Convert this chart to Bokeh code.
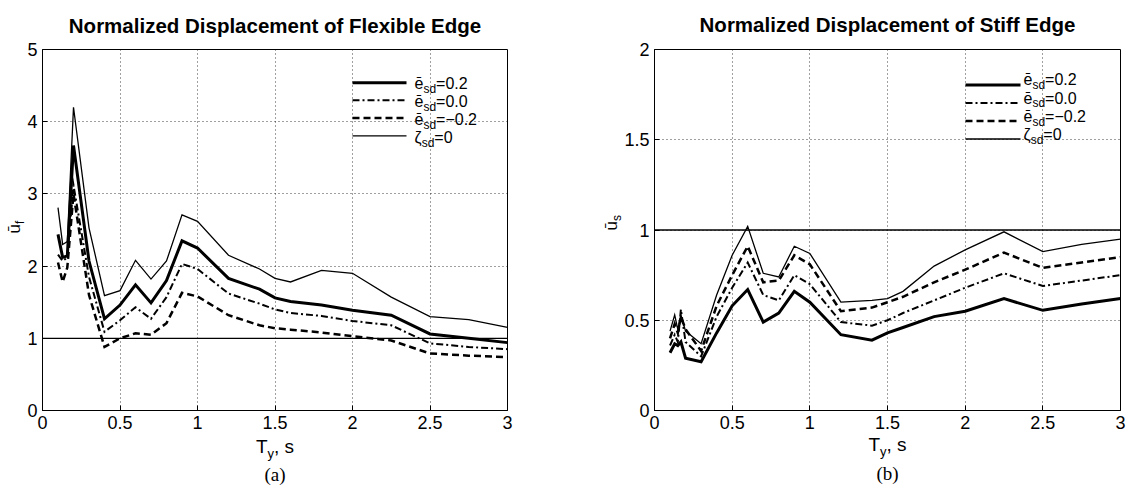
import math
from bokeh.plotting import figure
from bokeh.models import Label, Span, FixedTicker, CustomJSTickFormatter
from bokeh.layouts import row, column
from bokeh.embed import file_html
from bokeh.resources import INLINE

# ---------------- data ----------------
T_flex = [0.1, 0.13, 0.16, 0.2, 0.3, 0.4, 0.5, 0.6, 0.7, 0.8, 0.9, 1.0,
          1.2, 1.4, 1.5, 1.6, 1.8, 2.0, 2.25, 2.5, 2.75, 3.0]
uf_e_pos02 = [2.44, 2.12, 2.14, 3.67, 2.07, 1.27, 1.46, 1.74, 1.49, 1.80, 2.35, 2.25,
              1.83, 1.68, 1.56, 1.51, 1.46, 1.39, 1.32, 1.06, 1.00, 0.94]
uf_e_00 = [2.16, 2.07, 2.12, 3.12, 1.85, 1.09, 1.25, 1.43, 1.27, 1.57, 2.03, 1.96,
           1.62, 1.48, 1.40, 1.35, 1.31, 1.24, 1.18, 0.93, 0.88, 0.85]
uf_e_neg02 = [2.05, 1.78, 1.98, 3.00, 1.60, 0.88, 1.00, 1.07, 1.05, 1.21, 1.63, 1.58,
              1.32, 1.18, 1.14, 1.12, 1.08, 1.03, 0.97, 0.79, 0.76, 0.74]
uf_zeta0 = [2.81, 2.30, 2.34, 4.20, 2.53, 1.59, 1.66, 2.08, 1.82, 2.07, 2.71, 2.62,
            2.15, 1.96, 1.83, 1.78, 1.94, 1.90, 1.57, 1.30, 1.26, 1.15]

T_stiff = [0.1, 0.13, 0.15, 0.17, 0.2, 0.3, 0.4, 0.5, 0.6, 0.7, 0.8, 0.9, 1.0,
           1.2, 1.4, 1.5, 1.6, 1.8, 2.0, 2.25, 2.5, 2.75, 3.0]
us_e_pos02 = [0.32, 0.37, 0.36, 0.38, 0.29, 0.27, 0.43, 0.58, 0.67, 0.49, 0.54, 0.66, 0.60,
              0.42, 0.39, 0.43, 0.46, 0.52, 0.55, 0.62, 0.555, 0.59, 0.62]
us_e_00 = [0.36, 0.42, 0.38, 0.56, 0.38, 0.30, 0.52, 0.68, 0.82, 0.64, 0.61, 0.75, 0.70,
           0.49, 0.47, 0.50, 0.54, 0.61, 0.68, 0.76, 0.69, 0.72, 0.75]
us_e_neg02 = [0.40, 0.48, 0.43, 0.52, 0.45, 0.33, 0.58, 0.75, 0.91, 0.71, 0.72, 0.86, 0.81,
              0.55, 0.57, 0.60, 0.63, 0.71, 0.78, 0.875, 0.79, 0.82, 0.85]
us_zeta0 = [0.44, 0.53, 0.45, 0.53, 0.44, 0.37, 0.64, 0.86, 1.02, 0.76, 0.74, 0.91, 0.87,
            0.60, 0.61, 0.62, 0.66, 0.80, 0.89, 0.99, 0.88, 0.92, 0.95]

x_ticks = [0, 0.5, 1, 1.5, 2, 2.5, 3]
yf_ticks = [0, 1, 2, 3, 4, 5]
ys_ticks = [0, 0.5, 1, 1.5, 2]
ref_level = 1.0

legend_texts = [("ē", "sd", "=0.2"), ("ē", "sd", "=0.0"), ("ē", "sd", "=−0.2"), ("ζ", "sd", "=0")]

# ---------------- styles ----------------
FONT = "Liberation Sans"
SERIF = "Liberation Serif"
styles = [
    dict(line_width=3.0, line_dash="solid"),
    dict(line_width=2.0, line_dash="7 3 2 3"),
    dict(line_width=2.5, line_dash="7 4"),
    dict(line_width=1.3, line_dash="solid"),
]

W = {"ē": 0.556, "ū": 0.556, "s": 0.5, "d": 0.556, "=": 0.584, "0": 0.556, "2": 0.556,
     ".": 0.278, "−": 0.584, "ζ": 0.45, "f": 0.278, "T": 0.611, "y": 0.5, ",": 0.278, " ": 0.278}
BASE_FIX = 0.33  # baseline correction (fraction of font size)


def tw(text, size):
    return sum(W.get(c, 0.556) for c in text) * size


def make_map(fl, ft, fw, fh, xr, yr):
    def f(X, Y):
        return (xr[0] + (X - fl) * (xr[1] - xr[0]) / fw,
                yr[1] - (Y - ft) * (yr[1] - yr[0]) / fh)
    return f


# overlay figure: whole canvas in pixel units (y from top) for the free texts
ov = figure(width=1131, height=487, x_range=(0, 1131), y_range=(487, 0),
            x_axis_type=None, y_axis_type=None, toolbar_location=None, tools="",
            output_backend="svg", min_border=0, outline_line_color=None,
            background_fill_alpha=0, border_fill_alpha=0)
ov.xgrid.visible = False
ov.ygrid.visible = False
ov.margin = (-487, 0, 0, 0)


def txt(X, Y, text, size, font=FONT, style="normal", align="left", angle=0):
    if angle:
        X = X - BASE_FIX * size
    else:
        Y = Y - BASE_FIX * size
    ov.add_layout(Label(x=X, y=Y, text=text, text_font=font, text_font_size=f"{size}px",
                        text_font_style=style, text_color="black", text_align=align,
                        text_baseline="alphabetic", angle=angle))


def rich(X, Y, parts, center=False):
    total = sum(tw(t, s) for t, s, _ in parts)
    x = X - total / 2 if center else X
    for text, size, dy in parts:
        txt(x, Y + dy, text, size)
        x += tw(text, size)


def make_fig(width, mbl, mbr, mbt, mbb, yr, yticks):
    p = figure(width=width, height=487, x_range=(0, 3), y_range=yr,
               output_backend="svg", toolbar_location=None, tools="",
               min_border_left=mbl, min_border_right=mbr,
               min_border_top=mbt, min_border_bottom=mbb,
               background_fill_color="white", border_fill_color="white")
    p.outline_line_color = "black"
    p.outline_line_width = 1
    p.outline_line_alpha = 1
    p.xaxis[0].ticker = FixedTicker(ticks=x_ticks)
    p.yaxis[0].ticker = FixedTicker(ticks=yticks)
    p.xaxis[0].formatter = CustomJSTickFormatter(code="return tick.toString();")
    p.yaxis[0].formatter = CustomJSTickFormatter(code="return tick.toString();")
    for ax in (p.xaxis[0], p.yaxis[0]):
        ax.axis_line_color = "black"
        ax.major_tick_line_color = "black"
        ax.major_tick_in = 5
        ax.major_tick_out = 0
        ax.minor_tick_line_color = None
        ax.major_label_text_font = FONT
        ax.major_label_text_font_size = "18px"
        ax.major_label_text_color = "black"
        ax.major_label_standoff = 5
    for g in (p.xgrid[0], p.ygrid[0]):
        g.grid_line_color = "black"
        g.grid_line_alpha = 0.75
        g.grid_line_dash = "1 3"
        g.grid_line_width = 1
    p.add_layout(Span(location=ref_level, dimension="width", line_color="black", line_width=1.3))
    return p


def draw_panel(p, T, series, m, title, title_xy, ylab, ylab_xy, xlab_xy, cap, cap_xy,
               leg_x0, leg_x1, leg_tx, leg_rows):
    for ys, st in zip(series, styles):
        p.line(T, ys, line_color="black", line_join="miter", **st)
    txt(title_xy[0], title_xy[1], title, 20.5, style="bold", align="center")
    X, Y = ylab_xy
    txt(X, Y, "ū", 17, angle=math.pi / 2)
    txt(X + 3, Y - tw("ū", 17), ylab, 12, angle=math.pi / 2)
    rich(xlab_xy[0], xlab_xy[1], [("T", 19, 0), ("y", 13, 5), (", s", 19, 0)], center=True)
    txt(cap_xy[0], cap_xy[1], cap, 19, font=SERIF, align="center")
    for (a, b, c), st, Yr in zip(legend_texts, styles, leg_rows):
        x0, y0 = m(leg_x0, Yr)
        x1, _ = m(leg_x1, Yr)
        p.line([x0, x1], [y0, y0], line_color="black", **st)
        rich(leg_tx, Yr + 5.5, [(a, 16, 0), (b, 12, 4), (c, 16, 0)])


# ---------------- left panel ----------------
pf = make_fig(580, 42, 73, 49, 72, (0, 5), yf_ticks)
mf = make_map(42, 49, 465, 366, (0, 3), (0, 5))
draw_panel(pf, T_flex, [uf_e_pos02, uf_e_00, uf_e_neg02, uf_zeta0], mf,
           "Normalized Displacement of Flexible Edge", (274.5, 32),
           "f", (20, 233), (274.5, 452), "(a)", (274.5, 480),
           352, 406, 414, [82.7, 100.5, 118.5, 136.5])

# ---------------- right panel ----------------
ps = make_fig(551, 74, 11, 43, 77, (0, 2), ys_ticks)
ms = make_map(654, 43, 466, 367, (0, 3), (0, 2))
draw_panel(ps, T_stiff, [us_e_pos02, us_e_00, us_e_neg02, us_zeta0], ms,
           "Normalized Displacement of Stiff Edge", (887, 31),
           "s", (617, 230), (887, 450), "(b)", (887, 479),
           965, 1020, 1023, [79, 97.3, 115.7, 134])

layout = column(row(pf, ps), ov)
open("out.html", "w").write(file_html(layout, INLINE))
